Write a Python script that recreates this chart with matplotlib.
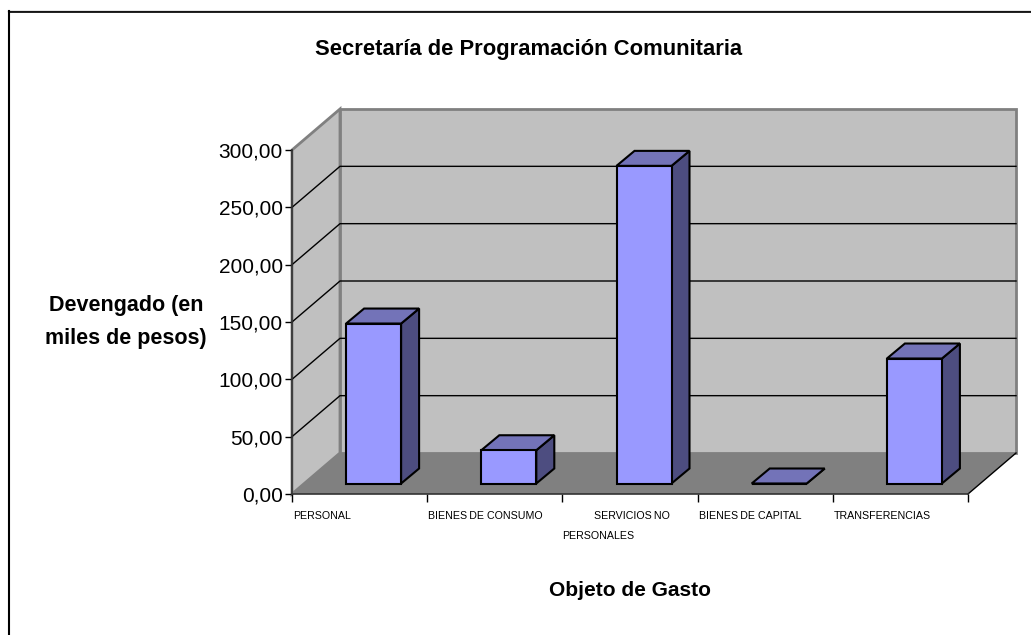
import matplotlib
matplotlib.use("Agg")
import matplotlib.pyplot as plt
from matplotlib.patches import Polygon, Rectangle

plt.rcParams['font.family'] = ['Liberation Sans', 'DejaVu Sans']

categorias = ['PERSONAL', 'BIENES\u2009DE CONSUMO', 'SERVICIOS\u2009NO', 'BIENES\u2009DE CAPITAL', 'TRANSFERENCIAS']
devengado = [139.5, 29, 277, 0, 109]
marcas_y = [0, 50, 100, 150, 200, 250, 300]
etiquetas_y = ['0,00', '50,00', '100,00', '150,00', '200,00', '250,00', '300,00']

W, H = 1031, 635
fig = plt.figure(figsize=(W / 100, H / 100), dpi=100)

# marco exterior: solo arriba e izquierda
fig.add_artist(plt.Line2D([8 / W, 1], [1 - 10.5 / H, 1 - 10.5 / H], color='#808080', lw=1, transform=fig.transFigure))
fig.add_artist(plt.Line2D([8.5 / W, 1], [1 - 11.5 / H, 1 - 11.5 / H], color='black', lw=1.2, transform=fig.transFigure))
fig.add_artist(plt.Line2D([8.5 / W, 8.5 / W], [0, 1 - 11 / H], color='black', lw=1.5, transform=fig.transFigure))

# ejes: x 292..968 px, y 494..150 px
ax = fig.add_axes([292 / W, 1 - 494 / H, 676 / W, 344 / H])
ax.set_xlim(0, 5)
ax.set_ylim(0, 300)
ax.patch.set_visible(False)
px = 5 / 676
py = 300 / 344

# profundidad 3d en unidades de datos
dx, dy = 48 * px, 41 * py

ax.add_patch(Polygon([(0, 300), (dx, 300 + dy), (dx, dy), (0, 0)], fc='#c0c0c0', ec='#808080', lw=2, zorder=1, clip_on=False))
ax.add_patch(Polygon([(dx, dy), (5 + dx, dy), (5 + dx, 300 + dy), (dx, 300 + dy)], fc='#c0c0c0', ec='#808080', lw=2, zorder=1, clip_on=False))
ax.add_patch(Polygon([(0, 0), (dx, dy), (5 + dx, dy), (5, 0)], fc='#808080', ec='none', zorder=2, clip_on=False))
ax.plot([5, 5 + dx], [0, dy], color='black', lw=1, zorder=2, clip_on=False)

for v in marcas_y[1:-1]:
    ax.plot([0, dx, 5 + dx], [v, v + dy, v + dy], color='black', lw=1, zorder=1.5, clip_on=False)

# barras
ancho = 55 * px
ox, oy = 14 * px, 10.5 * py
bx, by = 18 * px, 15 * py
for i, v in enumerate(devengado):
    x0 = i + 0.5 - ancho / 2 + ox
    x1 = x0 + ancho
    y0 = oy
    y1 = oy + v
    ax.add_patch(Polygon([(x1, y0), (x1 + bx, y0 + by), (x1 + bx, y1 + by), (x1, y1)], fc='#4d4d80', ec='black', lw=1.5, zorder=3, clip_on=False))
    ax.add_patch(Polygon([(x0, y1), (x1, y1), (x1 + bx, y1 + by), (x0 + bx, y1 + by)], fc='#7373b8', ec='black', lw=1.5, zorder=3, clip_on=False))
    ax.add_patch(Rectangle((x0, y0), ancho, v, fc='#9999ff', ec='black', lw=1.5, zorder=4))

for s in ['top', 'right']:
    ax.spines[s].set_visible(False)
for s in ['left', 'bottom']:
    ax.spines[s].set_color('#333333')
    ax.spines[s].set_linewidth(1.2)
    ax.spines[s].set_zorder(5)

ax.set_yticks(marcas_y)
ax.set_yticklabels(etiquetas_y, fontsize=15)
ax.tick_params(axis='y', length=5, width=1, pad=1.5)
ax.set_xticks(range(6))
ax.set_xticklabels([])
ax.tick_params(axis='x', length=6, width=1)

# etiquetas de categoria, alineadas al inicio de cada tramo
for i, c in enumerate(categorias):
    if i == 2:
        ax.text(i + 32 * px, -14.5, c, fontsize=7.7, ha='left', va='top')
        ax.text(i, -32.5, 'PERSONALES', fontsize=7.7, ha='left', va='top')
    else:
        ax.text(i + 1 * px, -14.5, c, fontsize=7.7, ha='left', va='top')

fig.text(529 / W, 1 - 50 / H, 'Secretaría de Programación Comunitaria', fontsize=15.8, fontweight='bold', ha='center', va='center')
fig.text(630 / W, 1 - 590 / H, 'Objeto de Gasto', fontsize=15, fontweight='bold', ha='center', va='center')
fig.text(126 / W, 1 - 322 / H, 'Devengado (en\nmiles de pesos)', fontsize=15.5, fontweight='bold', ha='center', va='center', linespacing=1.7)

fig.savefig('out.png', dpi=100)
